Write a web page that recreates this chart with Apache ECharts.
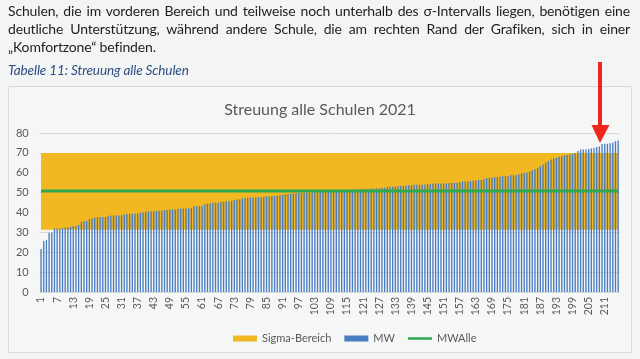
<!DOCTYPE html>
<html>
<head>
<meta charset="utf-8">
<script src="https://cdn.jsdelivr.net/npm/echarts@6/dist/echarts.min.js"></script>
<style>
  html, body { margin:0; padding:0; background:#f3f4f4; }
  #chart { position:absolute; left:0; top:0; width:640px; height:359px; }
  .line { position:absolute; left:8px; width:622px; white-space:nowrap; font-family:Lato, "Open Sans", sans-serif; font-size:14px; color:#1e1e1e; text-align:justify; text-align-last:justify; z-index:5; letter-spacing:-0.15px; }
  .last { text-align-last:left; }
  .cap { position:absolute; left:8px; top:62px; font-family:Lato, sans-serif; font-style:italic; font-size:13.5px; color:#2c4d82; z-index:5; letter-spacing:-0.1px; }
</style>
</head>
<body>
<div id="chart"></div>
<div class="line" style="top:2px">Schulen, die im vorderen Bereich und teilweise noch unterhalb des σ-Intervalls liegen, benötigen eine</div>
<div class="line" style="top:20px">deutliche Unterstützung, während andere Schule, die am rechten Rand der Grafiken, sich in einer</div>
<div class="line last" style="top:38px">„Komfortzone“ befinden.</div>
<div class="cap">Tabelle 11: Streuung alle Schulen</div>
<script>
// ---- data ----
const chartTitle = 'Streuung alle Schulen 2021';
const schoolCount = 216;
const categories = [];
for (let i = 1; i <= schoolCount; i++) categories.push(String(i));

const mw = [
 21.6,25.6,26.1,29.8,30.0,32.0,32.0,32.0,32.1,32.5,
 32.5,32.8,33.2,33.2,33.7,35.3,35.7,35.7,36.7,37.0,
 37.3,37.5,37.7,37.7,37.8,38.2,38.5,38.5,38.5,38.5,
 38.7,39.0,39.3,39.3,39.5,39.5,39.5,39.9,40.0,40.4,
 40.5,40.5,40.5,40.8,40.9,41.0,41.2,41.2,41.5,41.5,
 41.5,41.9,42.0,42.0,42.0,42.0,42.4,43.2,43.2,43.2,
 43.2,44.2,44.4,44.5,44.9,44.9,44.9,45.4,45.5,45.5,
 45.7,45.9,46.2,46.6,46.7,47.1,47.4,47.4,47.6,47.6,
 47.6,47.7,47.7,48.1,48.1,48.2,48.3,48.4,48.5,48.7,
 48.8,49.2,49.3,49.3,49.6,49.7,49.8,49.8,49.9,50.0,
 50.0,50.1,50.2,50.3,50.3,50.4,50.5,50.5,50.6,50.7,
 50.8,50.9,51.0,51.0,51.1,51.2,51.3,51.4,51.6,51.7,
 51.8,51.8,51.8,52.1,52.1,52.1,52.2,52.4,52.4,52.9,
 52.9,52.9,53.1,53.2,53.4,53.4,53.6,53.8,53.8,53.9,
 53.9,53.9,54.1,54.1,54.3,54.3,54.6,54.6,54.6,54.6,
 54.6,54.6,54.8,54.8,54.9,55.0,55.3,55.6,55.6,55.6,
 55.8,56.1,56.1,56.4,56.4,56.9,57.3,57.3,57.6,57.7,
 57.9,58.1,58.3,58.3,58.3,58.8,58.8,58.8,59.3,59.8,
 59.9,60.1,60.5,61.3,61.8,62.5,63.3,64.2,65.0,65.8,
 66.7,67.2,67.5,68.0,68.3,68.8,68.9,69.2,69.5,70.0,
 71.0,71.7,71.7,71.7,71.9,72.2,72.5,72.9,73.2,74.5,
 74.6,74.6,74.9,75.2,75.9,76.2
];
const sigmaLow = 31.3;   // lower bound of sigma interval
const sigmaHigh = 70.0;  // upper bound of sigma interval
const mwAlleValue = 50.8;
const sigmaBase = categories.map(() => sigmaLow);
const sigmaBand = categories.map(() => +(sigmaHigh - sigmaLow).toFixed(1));
const mwAlle = categories.map(() => mwAlleValue);
const yTicks = { min: 0, max: 80, interval: 10 };

// ---- chart ----
const chart = echarts.init(document.getElementById('chart'), null, { renderer: 'canvas' });
const font = 'Lato, "Open Sans", sans-serif';
chart.setOption({
  backgroundColor: 'transparent',
  animation: false,
  textStyle: { fontFamily: font },
  title: {
    text: chartTitle, left: 'center', top: 97,
    textStyle: { fontFamily: font, fontSize: 16, fontWeight: 'normal', color: '#595959' }
  },
  legend: {
    left: 228, top: 328, itemGap: 13, itemWidth: 24, itemHeight: 6,
    textStyle: { fontFamily: font, fontSize: 11, color: '#595959' },
    data: [
      { name: 'Sigma-Bereich', icon: 'rect', itemStyle: { color: '#f2b822' } },
      { name: 'MW', icon: 'rect', itemStyle: { color: '#4a7cc0' } },
      { name: 'MWAlle', icon: 'path://M0,0 h24 v2.5 h-24 z', itemStyle: { color: '#2fa84f' } }
    ]
  },
  grid: { left: 39.7, right: 20.5, top: 133, bottom: 67 },
  xAxis: {
    type: 'category', data: categories,
    axisLine: { lineStyle: { color: '#d9d9d9' } },
    axisTick: { show: false },
    axisLabel: { interval: 5, rotate: 90, fontSize: 10.5, color: '#595959', margin: 5, fontFamily: font }
  },
  yAxis: {
    type: 'value', min: yTicks.min, max: yTicks.max, interval: yTicks.interval,
    axisLine: { show: false }, axisTick: { show: false },
    axisLabel: { fontSize: 11, color: '#595959', margin: 11, fontFamily: font },
    splitLine: { lineStyle: { color: '#d9d9d9', width: 1 } }
  },
  graphic: [
    { type: 'rect', z: -10, silent: true,
      shape: { x: 8.5, y: 86.5, width: 623, height: 266 },
      style: { fill: '#f5f6f6', stroke: '#d9d9d9', lineWidth: 1 } },
    { type: 'line', z: 100, silent: true,
      shape: { x1: 600, y1: 62, x2: 600, y2: 127 },
      style: { stroke: '#f0271a', lineWidth: 4 } },
    { type: 'polygon', z: 100, silent: true,
      shape: { points: [[591.5, 125], [609.5, 125], [600, 143]] },
      style: { fill: '#f0271a' } }
  ],
  series: [
    { name: 'base', type: 'line', stack: 'sigma', data: sigmaBase, symbol: 'none',
      lineStyle: { width: 0, opacity: 0 }, z: 1, silent: true },
    { name: 'Sigma-Bereich', type: 'line', stack: 'sigma', data: sigmaBand, symbol: 'none',
      lineStyle: { width: 0, opacity: 0 }, itemStyle: { color: '#f2b822' },
      areaStyle: { color: '#f2b822', opacity: 1 }, z: 1 },
    { name: 'MW', type: 'bar', data: mw, barCategoryGap: '50%',
      itemStyle: { color: '#4a7cc0' }, z: 3 },
    { name: 'MWAlle', type: 'line', data: mwAlle, symbol: 'none',
      lineStyle: { color: '#2fa84f', width: 3 }, itemStyle: { color: '#2fa84f' }, z: 4 }
  ]
});
</script>
</body>
</html>
